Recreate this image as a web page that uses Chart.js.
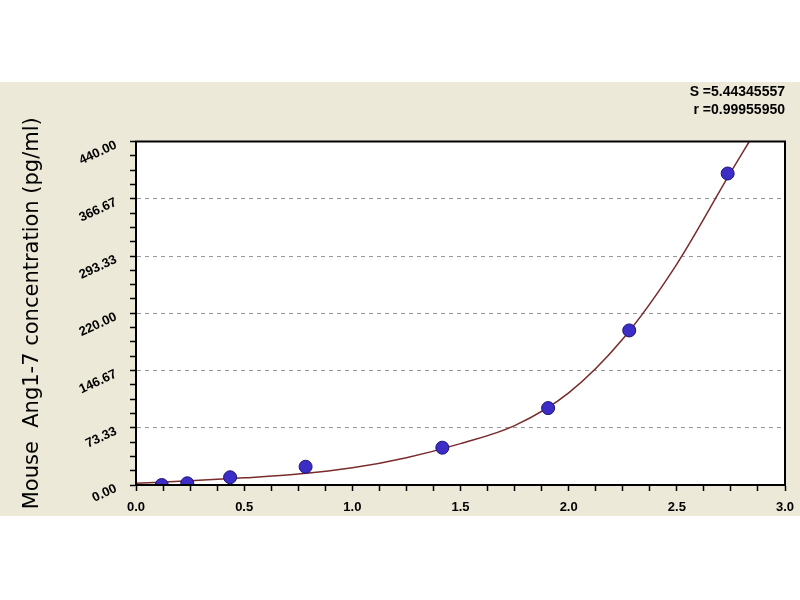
<!DOCTYPE html>
<html><head><meta charset="utf-8">
<script src="https://cdn.jsdelivr.net/npm/chart.js@4/dist/chart.umd.min.js"></script>
<style>
html,body{margin:0;padding:0;background:#fff;width:800px;height:600px;overflow:hidden}
#wrap{position:absolute;left:0;top:82px;width:800px;height:434px;background:#ece9d8}
</style></head><body>
<div id="wrap"><canvas id="c" width="800" height="434"></canvas></div>
<script>
// Standard points (OD vs concentration)
const stdOD   = [0.119, 0.237, 0.435, 0.784, 1.416, 1.905, 2.280, 2.735];
const stdConc = [0, 2.2, 9.9, 23.4, 47.8, 98.5, 198, 399];
// Fitted curve
const fitOD   = [0, 0.25, 0.5, 0.75, 1.0, 1.25, 1.5, 1.75, 2.0, 2.25, 2.5, 2.75, 2.835];
const fitConc = [2.2, 5.3, 9.2, 14, 22, 35, 53, 76, 118, 187, 283, 401, 440];
// Tick labels
const xTickLabels = ['0.0','0.5','1.0','1.5','2.0','2.5','3.0'];
const yTickLabels = ['0.00','73.33','146.67','220.00','293.33','366.67','440.00'];
const statsText = ['S =5.44345557', 'r =0.99955950'];
const yTitle = 'Mouse  Ang1-7 concentration (pg/ml)';
const SUB = 4;

function buildTicks(labels) {
  const majors = labels.map(parseFloat);
  const out = [];
  for (let i = 0; i < majors.length - 1; i++) {
    for (let k = 0; k < SUB; k++) out.push({value: majors[i] + k * (majors[i+1] - majors[i]) / SUB});
  }
  out.push({value: majors[majors.length - 1]});
  return out;
}

const bgPlugin = {
  id: 'bg',
  beforeDraw(chart) {
    const {ctx, chartArea: a} = chart;
    ctx.save();
    ctx.fillStyle = '#ffffff';
    ctx.fillRect(a.left, a.top, a.right - a.left, a.bottom - a.top);
    ctx.restore();
  },
  afterDraw(chart) {
    const {ctx, chartArea: a} = chart;
    ctx.save();
    ctx.strokeStyle = '#000';
    ctx.lineWidth = 2;
    ctx.strokeRect(a.left, a.top, a.right - a.left, a.bottom - a.top);
    ctx.restore();
  }
};

new Chart(document.getElementById('c'), {
  type: 'scatter',
  data: {
    datasets: [
      {
        label: 'Standards',
        data: stdOD.map((x, i) => ({x, y: stdConc[i]})),
        showLine: false,
        pointRadius: 6.5,
        pointBackgroundColor: '#3b2dc6',
        pointBorderColor: '#1c1578',
        pointBorderWidth: 1,
        order: 0
      },
      {
        label: 'Fit',
        data: fitOD.map((x, i) => ({x, y: fitConc[i]})),
        showLine: true,
        borderColor: '#7a2b2b',
        borderWidth: 1.5,
        pointRadius: 0,
        cubicInterpolationMode: 'monotone',
        order: 1
      }
    ]
  },
  options: {
    responsive: false,
    devicePixelRatio: 1,
    animation: false,
    layout: {padding: {left: 0, right: 15, top: 0, bottom: 0}},
    plugins: {
      legend: {display: false},
      tooltip: {enabled: false},
      title: {
        display: true,
        text: statsText,
        align: 'end',
        color: '#000',
        font: {family: 'Liberation Sans, Arial, sans-serif', size: 14, weight: 'bold', lineHeight: 18/14},
        padding: {top: 1, bottom: 22.5}
      }
    },
    scales: {
      x: {
        type: 'linear',
        min: 0, max: 3,
        afterFit: s => { s.height = 31; },
        afterBuildTicks: s => { s.ticks = buildTicks(xTickLabels); },
        ticks: {
          autoSkip: false,
          maxRotation: 0,
          padding: 5,
          color: '#000',
          font: {family: 'Liberation Sans, Arial, sans-serif', size: 13, weight: 'bold', lineHeight: 1.8},
          callback: (v, i) => (i % SUB === 0 ? xTickLabels[i / SUB] : '')
        },
        grid: {color: 'transparent', drawTicks: true, tickLength: 6, tickColor: '#000', tickWidth: 1.5},
        border: {display: true, color: '#000', width: 2}
      },
      y: {
        type: 'linear',
        min: 0, max: 440,
        afterFit: s => { s.width = 136; },
        afterBuildTicks: s => { s.ticks = buildTicks(yTickLabels); },
        ticks: {
          autoSkip: false,
          minRotation: 25, maxRotation: 25,
          padding: 14,
          labelOffset: 3,
          color: '#000',
          font: {family: 'Liberation Sans, Arial, sans-serif', size: 13, weight: 'bold'},
          callback: (v, i) => (i % SUB === 0 ? yTickLabels[i / SUB] : '')
        },
        grid: {
          color: c => (c.index % SUB === 0 && c.index !== 0 && c.index !== 6 * SUB) ? '#9a9a9a' : 'transparent',
          lineWidth: 1,
          drawTicks: true, tickLength: 6, tickColor: '#000', tickWidth: 1.5
        },
        border: {display: true, color: '#000', width: 2, dash: [4, 4]},
        title: {
          display: true,
          text: yTitle,
          color: '#000',
          font: {family: 'DejaVu Sans, sans-serif', size: 21},
          padding: {top: 20, bottom: 0}
        }
      }
    }
  },
  plugins: [bgPlugin]
});
</script>
</body></html>
